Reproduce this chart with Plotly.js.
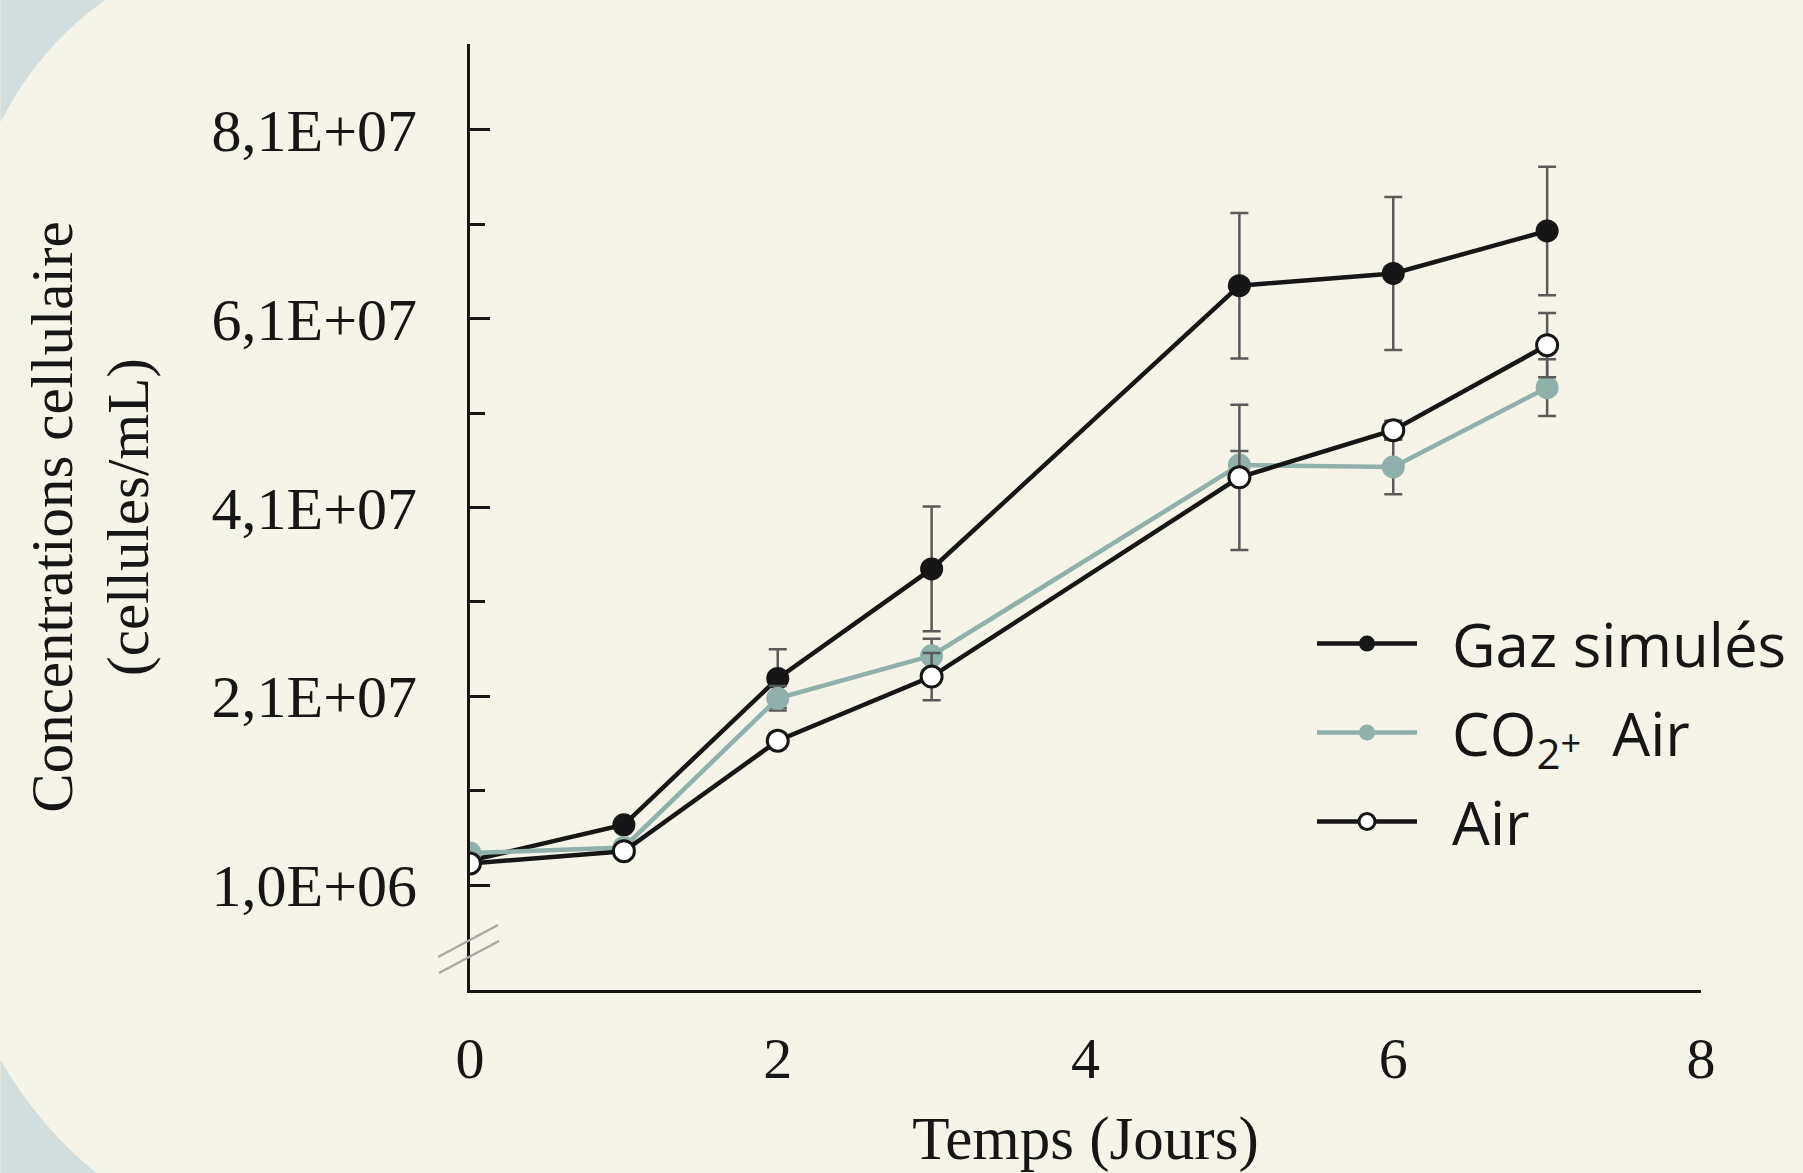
<!DOCTYPE html>
<html>
<head>
<meta charset="utf-8">
<script src="https://cdn.plot.ly/plotly-3.0.1.min.js"></script>
<style>
  html, body { margin: 0; padding: 0; background: #F6F4E8; overflow: hidden; }
  #chart { width: 1803px; height: 1173px; }
</style>
</head>
<body>
<div id="chart"></div>
<script>
// ---- data (cellules/mL) ----
const days = [0, 1, 2, 3, 5, 6, 7];
const gazSimules = [3.6e6, 7.4e6, 22.9e6, 34.5e6, 64.5e6, 65.8e6, 70.3e6];
const gazSimulesErr = [0, 0, 3.1e6, 6.6e6, 7.7e6, 8.1e6, 6.8e6];
const co2Air = [4.4e6, 5.0e6, 20.8e6, 25.3e6, 45.5e6, 45.3e6, 53.7e6];
const co2AirErr = [0, 0, 1.3e6, 1.8e6, 1.5e6, 2.9e6, 3.0e6];
const air = [3.3e6, 4.6e6, 16.3e6, 23.1e6, 44.2e6, 49.2e6, 58.2e6];
const airErr = [0, 0, 0.8e6, 2.5e6, 7.7e6, 1.0e6, 3.4e6];

const seriesNames = [
  '\u2002Gaz simulés',
  '\u2002CO<sub>2</sub><span style="font-size:36px">+</span>\u00a0\u00a0Air',
  '\u2002Air'
];

const xTickVals = [0, 2, 4, 6, 8];
const yTickVals = [1e6, 21e6, 41e6, 61e6, 81e6];
const yTickText = ['1,0E+06', '2,1E+07', '4,1E+07', '6,1E+07', '8,1E+07'];
const yMinorVals = [11e6, 31e6, 51e6, 71e6];

// ---- layout helpers (pixel -> paper) ----
const W = 1803, H = 1173;
const M = { l: 470, r: 101, t: 44, b: 183 };
const PW = W - M.l - M.r, PH = H - M.t - M.b;
const px = x => (x - M.l) / PW;
const py = y => (H - M.b - y) / PH;
const pt = (x, y) => px(x).toFixed(5) + ',' + py(y).toFixed(5);

const serif = 'Liberation Serif, Times New Roman, serif';
const ink = '#161616';
const teal = '#8FB0AB';
const errColor = '#5a5a5a';

function errOpts(arr) {
  return { type: 'data', array: arr, visible: true, color: errColor, thickness: 2.5, width: 9 };
}

const traces = [
  {
    x: days, y: gazSimules, name: seriesNames[0], legendgroup: 'g1', type: 'scatter', mode: 'lines+markers',
    line: { color: ink, width: 4.5 },
    marker: { symbol: 'circle', size: 23, color: ink },
    error_y: errOpts(gazSimulesErr)
  },
  {
    x: days, y: co2Air, name: seriesNames[1], legendgroup: 'g2', type: 'scatter', mode: 'lines+markers',
    line: { color: teal, width: 4.5 },
    marker: { symbol: 'circle', size: 23, color: teal },
    error_y: errOpts(co2AirErr)
  },
  {
    x: days, y: air, name: seriesNames[2], legendgroup: 'g3', type: 'scatter', mode: 'lines+markers',
    line: { color: ink, width: 4.5 },
    marker: { symbol: 'circle', size: 21, color: '#ffffff', line: { color: ink, width: 3 } },
    error_y: errOpts(airErr)
  }
];

const cornerBlue = '#D2DEDE';
const shapes = [
  // top-left background corner
  { type: 'path', xref: 'paper', yref: 'paper', layer: 'below', line: { width: 0 }, fillcolor: cornerBlue,
    path: 'M' + pt(0, 0) + ' L' + pt(105, 0) + ' Q' + pt(40, 45) + ' ' + pt(0, 122) + ' Z' },
  // bottom-left background corner
  { type: 'path', xref: 'paper', yref: 'paper', layer: 'below', line: { width: 0 }, fillcolor: cornerBlue,
    path: 'M' + pt(0, H) + ' L' + pt(0, 1060) + ' Q' + pt(40, 1128) + ' ' + pt(96, H) + ' Z' },
  // axis break marks
  { type: 'line', xref: 'paper', yref: 'paper', layer: 'above', line: { color: '#a9a9a3', width: 2.5 },
    x0: px(438), y0: py(957), x1: px(498), y1: py(925) },
  { type: 'line', xref: 'paper', yref: 'paper', layer: 'above', line: { color: '#a9a9a3', width: 2.5 },
    x0: px(439), y0: py(973), x1: px(499), y1: py(941) }
];

const layout = {
  width: W, height: H,
  margin: M,
  paper_bgcolor: '#F6F4E8',
  plot_bgcolor: 'rgba(0,0,0,0)',
  showlegend: true,
  font: { family: serif, color: ink },
  xaxis: {
    range: [0, 8], showgrid: false, zeroline: false,
    showline: true, linecolor: ink, linewidth: 3,
    ticks: '', tickmode: 'array', tickvals: xTickVals,
    tickfont: { family: serif, size: 58, color: ink },
    ticklabelstandoff: 15,
    title: { text: 'Temps (Jours)', font: { family: serif, size: 61, color: ink }, standoff: 42 }
  },
  yaxis: {
    range: [-10.1e6, 90.1e6], showgrid: false, zeroline: false,
    showline: true, linecolor: ink, linewidth: 3,
    ticks: 'inside', ticklen: 20, tickwidth: 3, tickcolor: ink,
    tickmode: 'array', tickvals: yTickVals, ticktext: yTickText,
    minor: { tickmode: 'array', tickvals: yMinorVals, ticks: 'inside', ticklen: 15, tickwidth: 3, tickcolor: ink, showgrid: false },
    tickfont: { family: serif, size: 60, color: ink },
    ticklabelstandoff: 38,
    title: { text: 'Concentrations cellulaire<br>(cellules/mL)', font: { family: serif, size: 59, color: ink }, standoff: 44 }
  },
  legend: {
    x: px(1312), y: py(598), xanchor: 'left', yanchor: 'top',
    bgcolor: 'rgba(0,0,0,0)', borderwidth: 0,
    font: { family: 'Open Sans, Lato, sans-serif', size: 60, color: ink },
    itemwidth: 100, tracegroupgap: 8
  },
  shapes: shapes
};

Plotly.newPlot('chart', traces, layout, { displayModeBar: false, staticPlot: true });
</script>
</body>
</html>
